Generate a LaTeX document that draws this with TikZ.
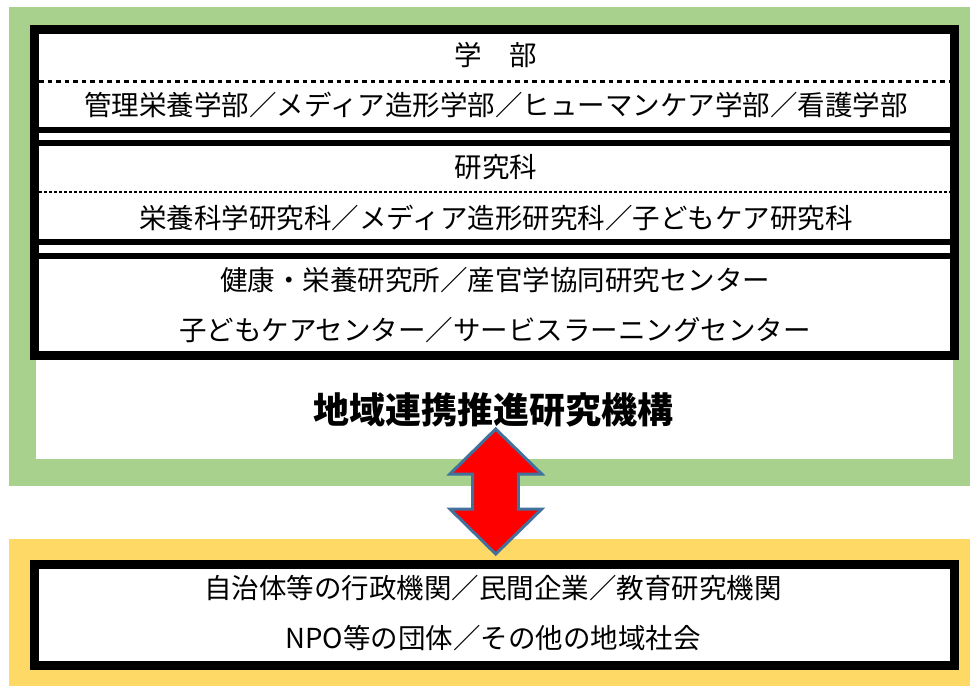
\documentclass[tikz,border=0pt]{standalone}
\usepackage{fontspec}
\setmainfont{Noto Sans CJK JP}
\definecolor{frgreen}{HTML}{A9D18E}
\definecolor{fryellow}{HTML}{FFD966}
\definecolor{arrowblue}{HTML}{41719C}
\begin{document}
\begin{tikzpicture}[x=1pt,y=-1pt,
  txt/.style={font=\fontsize{27.5}{30}\selectfont, inner sep=0pt, text=black},
  ttl/.style={font=\fontsize{36}{40}\selectfont\bfseries, inner sep=0pt, text=black},
  bar/.style={fill=black},
  sepA/.style={line width=3pt, dash pattern=on 4.5pt off 4pt},
  sepB/.style={line width=1.6pt, dash pattern=on 3pt off 2pt},
  blockarrow/.style={fill=red, draw=arrowblue, line width=3pt, line join=miter}]
\useasboundingbox (0,0) rectangle (970,686);
% background frames
\fill[frgreen] (9,7) rectangle (970,486);
\fill[white] (36,34) rectangle (953,459);
\fill[fryellow] (9,539) rectangle (970,686);
% upper stacked boxes
\fill[bar] (30,25) rectangle (959,360);
\fill[white] (39,34) rectangle (950,351);
\fill[bar] (39,127) rectangle (950,133);
\fill[bar] (39,140) rectangle (950,146);
\fill[bar] (39,239) rectangle (950,245);
\fill[bar] (39,253) rectangle (950,259);
\coordinate (d1l) at (39,81);
\coordinate (d1r) at (950,81);
\coordinate (d2l) at (39,192);
\coordinate (d2r) at (950,192);
\draw[sepA] (d1l) -- (d1r);
\draw[sepB] (d2l) -- (d2r);
% lower box
\fill[bar] (30,560) rectangle (959,670);
\fill[white] (39,569) rectangle (950,661);
% texts
\node[txt] (gakubu) at (496,55) {学　部};
\node[txt] (gakubulist) at (496,105) {管理栄養学部／メディア造形学部／ヒューマンケア学部／看護学部};
\node[txt] (kenkyuka) at (496,167) {研究科};
\node[txt] (kenkyukalist) at (496,218) {栄養科学研究科／メディア造形研究科／子どもケア研究科};
\node[txt] (center1) at (495,280) {健康・栄養研究所／産官学協同研究センター};
\node[txt] (center2) at (495,330) {子どもケアセンター／サービスラーニングセンター};
\node[ttl] (kiko) at (493,410) {地域連携推進研究機構};
\node[txt] (partner1) at (493,588) {自治体等の行政機関／民間企業／教育研究機関};
\node[txt] (partner2) at (493,638) {NPO等の団体／その他の地域社会};
% double block arrow
\draw[blockarrow] (495.7,429) -- (541.7,474) -- (518.3,474) -- (518.3,509) -- (541.7,509)
  -- (495.7,554) -- (450,509) -- (472.7,509) -- (472.7,474) -- (450,474) -- cycle;
\end{tikzpicture}
\end{document}
